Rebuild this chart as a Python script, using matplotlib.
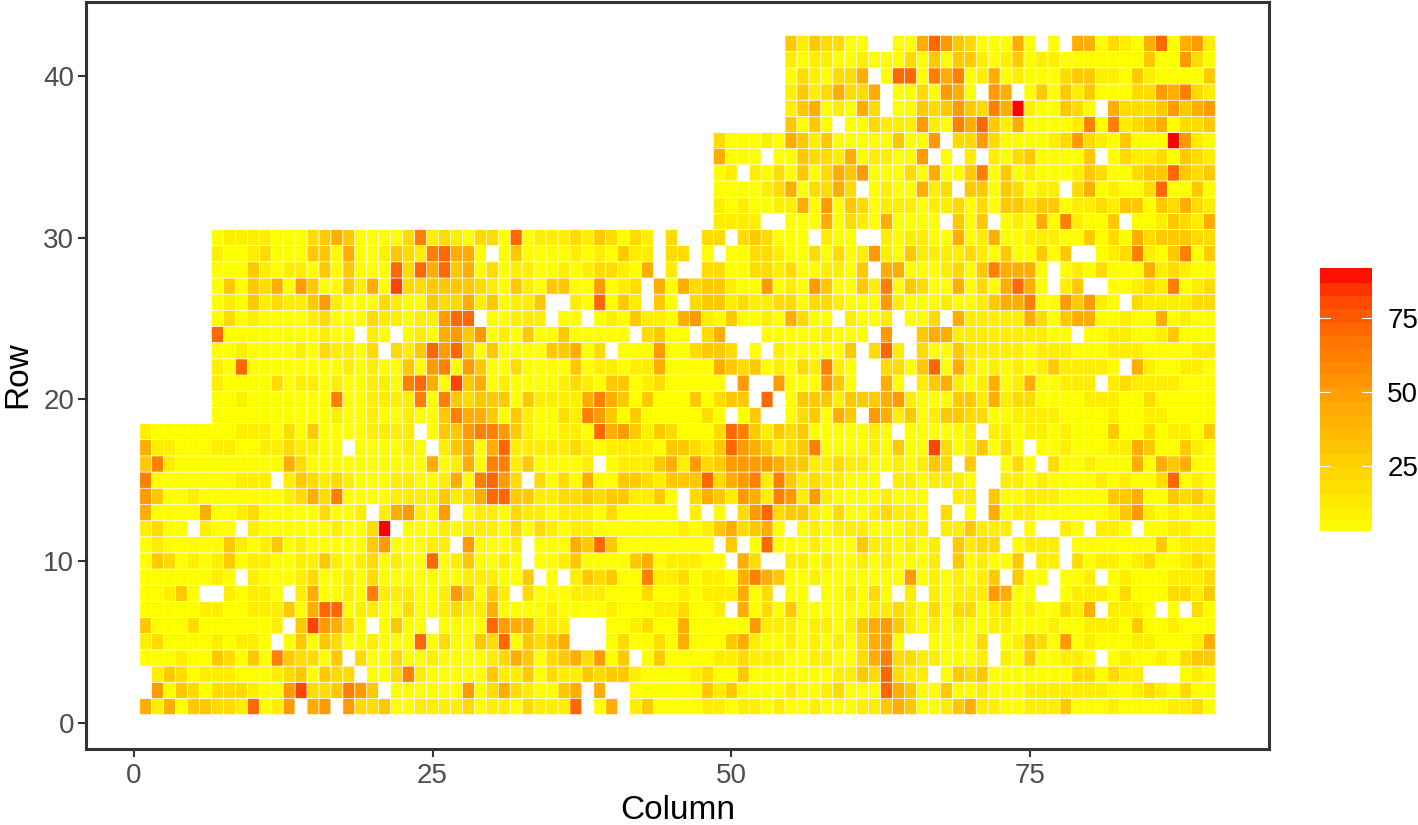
import numpy as np
import matplotlib
matplotlib.use("Agg")
import matplotlib.pyplot as plt
from matplotlib.colors import LinearSegmentedColormap, Normalize

# colour level of each plate cell ("." = empty cell)
LEVEL_VALUES = [4, 12, 21, 30, 43, 52, 63, 72, 83, 92]
EMPTY = ".......... .......... .........."
ROW_LEVELS = [
    "4140332217 015.45.522 3001111201 1021117.04 .130000110 1101001000 1134300134 1100111300 0100001120",
    ".503202221 0058223653 .000000502 4210034.4. .000000313 0000100120 0074300300 1000111111 1001210200",
    ".132011100 01230322.0 0261000003 1130211323 3100001200 3000000011 327211.032 3000000022 0211...010",
    "0001003203 0632203.20 0200100001 2430234250 3.03000011 2111001100 2462211000 1.10300110 .010010233",
    "1200001011 0.03032001 0007020032 703234...0 2002040003 4100101010 2450..0000 2.01320501 0001100014",
    "3000200000 01.385420. 0300.00007 544111...0 0120040000 0511101101 3453101010 0110001001 1103001000",
    "0000011001 1130477011 0020012114 0000100001 000112001. 4020300000 0112102022 0120100214 .1110.0.20",
    "00130..101 10.1400106 1110015303 1.20001110 0020010111 402.00.001 020.1.1011 15400..011 1020002213",
    "00000010.1 0001200102 0000000111 003.0.1323 0061120110 4643001000 0000501010 13.300.001 .010001112",
    "0320101301 1001131012 0100701300 10.0013000 034011100. 42..110100 1010001.30 1003.11.20 1101200121",
    "0100000310 1301000003 500011.500 01.0004373 00000000.3 .070001000 3110101.31 22.0111.00 0000030111",
    "1200.100.1 0000001002 9.00010111 0202101100 0000010134 2340.01011 100011.113 111.0..10. 110.001100",
    "4000040012 000002001. 145105.011 0211011102 00000.1.0. 2572331020 012110.2.0 .401100000 0135101011",
    "5300100000 0012426000 0111131247 7331122323 31130.2431 5416515100 001000..11 .300111000 0334003231",
    "6000000011 1.13212100 0110014067 52.2020400 3321333724 5616312110 00.1101110 ..11010000 1010027010",
    "3610000000 0042000000 0000401406 61300001.0 1113415235 5554331121 10010132.3 ..020.2001 0004043400",
    "4110001100 1121100.00 0010.13404 7111112101 1110332137 5431236000 0103008201 3020.00100 0114300310",
    "1000000011 1020300001 111.033566 5310011074 5313200027 6313230000 010.000001 .110110100 0300201103",
    "......0000 0000001001 0010036443 0310021653 030000020. 03..023043 .541301332 2001111000 0100110000",
    "......0010 0000006001 1116063233 3031111464 3030003023 3.7.033313 3345100033 1412200001 1100200000",
    "......1000 0201101001 1067408340 1000012103 301200000. 5..5000530 ..40.13410 1401400111 .121111000",
    "......1070 0000000101 0030560530 0200003011 0114000043 2301021610 ..22037041 0101013111 10.4100110",
    "......0010 0001021102 .213757303 000033402. 0005002332 .0.1000003 .271.20031 1111011100 0111000011",
    "......7000 00000100.1 0.01045350 1030030000 0.2300.24. ..00000100 0.5..34411 11111100.0 0110013000",
    "......0201 0000120002 11011577.0 0111.00.01 0311045103 00104200.1 001.002.41 1111420344 0010040100",
    "......0103 1211351000 2100322413 0113..1070 31.30.2331 2112202210 0051000100 1344600535 10.2111122",
    "......0303 2405300314 0822333321 0310330050 12.4042331 0050105300 3160320040 204740.13. .001216012",
    "......0003 1011030300 0727473402 0110010122 104.1..220 0221200110 3.44000120 364440.010 2000412100",
    "......1001 2000330400 132167440. 0300001010 311.22.0.0 0221002020 1510311112 10300303.. 0126103603",
    "......0111 1000234300 0026121022 0701112132 021.2..22. 232000.100 ..10110040 1400111003 0204233322",
    EMPTY + " .......... ........11 11..000402 1040000.30 3.01040610 03.0013214",
    EMPTY + " .......... ........10 1001140503 2011101120 2033233011 2133032421",
    EMPTY + " .......... ........00 0012402242 .0100412.3 3032011.24 0100270030",
    EMPTY + " .......... ........01 .102030243 5000204003 6030100013 2002337323",
    EMPTY + " .......... ........40 00.0032214 011005.0.1 .102300003 .021120321",
    EMPTY + " .......... ........20 0010431300 0003005.22 5200001252 1030009510",
    EMPTY + " .......... .......... ....3030.0 0211151064 7314000016 0612340223",
    EMPTY + " .......... .......... ....134010 42.0032353 2649100320 .422235345",
    EMPTY + " .......... .......... ....131242 24.0020540 .54.030313 0002254621",
    EMPTY + " .......... .......... ....021022 4.07706460 1401000233 1103100003",
    EMPTY + " .......... .......... ....101100 1000203033 1013011000 0000300520",
    EMPTY + " .......... .......... ....313220 0..0047532 00040.0.44 0210470451",
]
X_TICKS = [0, 25, 50, 75]
Y_TICKS = [0, 10, 20, 30, 40]
BAR_TICKS = [25, 50, 75]
VMIN, VMAX = 3, 92

rows_clean = [r.replace(" ", "") for r in ROW_LEVELS]
for i, r in enumerate(rows_clean):
    assert len(r) == 90, (i + 1, len(r))
grid = np.array([[np.nan if ch == "." else LEVEL_VALUES[int(ch)] for ch in r] for r in rows_clean])

plt.rcParams["font.family"] = ["Liberation Sans", "DejaVu Sans"]

cmap = LinearSegmentedColormap.from_list("yellow_red", [
    (0.0, "#ffff00"), (0.1, "#ffee00"), (0.25, "#ffd200"), (0.5, "#ffa500"),
    (0.75, "#ff7000"), (0.9, "#ff4400"), (1.0, "#ff0000")])
norm = Normalize(VMIN, VMAX)

W, H = 1418, 825
fig = plt.figure(figsize=(W / 100, H / 100), dpi=100)
ax = fig.add_axes([86 / W, 1 - 748.5 / H, (1269 - 86) / W, (748.5 - 1.5) / H])
mesh = ax.pcolormesh(np.arange(0.5, 91), np.arange(0.5, 43), np.ma.masked_invalid(grid),
                     cmap=cmap, norm=norm, edgecolors="white", linewidth=0.45, antialiased=True)
mesh.set_snap(False)
ax.set_xlim(-4, 95)
ax.set_ylim(-1.6, 44.6)
ax.set_xticks(X_TICKS)
ax.set_yticks(Y_TICKS)
ax.tick_params(length=5.5, width=1.5, color="#333333", labelcolor="#4d4d4d", labelsize=20, pad=3)
ax.tick_params(axis="x", pad=5)
for s in ax.spines.values():
    s.set_color("#333333")
    s.set_linewidth(2.2)
ax.set_xlabel("Column", fontsize=24, color="black", labelpad=4.5)
ax.set_ylabel("Row", fontsize=24, color="black", labelpad=7)

# legend bar
cax = fig.add_axes([1320 / W, 1 - 531 / H, 52 / W, 263 / H])
cb = fig.colorbar(mesh, cax=cax, boundaries=np.linspace(VMIN, VMAX, 21), ticks=BAR_TICKS, spacing="proportional")
cb.outline.set_visible(False)
cb.solids.set_edgecolor("face")
cax.tick_params(length=0, labelsize=20, labelcolor="black", pad=11)
cax.set_yticklabels([str(t) for t in BAR_TICKS])
for t in BAR_TICKS:
    cax.plot([0, 0.2], [t, t], color="white", linewidth=0.8, transform=cax.get_yaxis_transform())
    cax.plot([0.8, 1], [t, t], color="white", linewidth=0.8, transform=cax.get_yaxis_transform())

fig.savefig("out.png", dpi=100)
